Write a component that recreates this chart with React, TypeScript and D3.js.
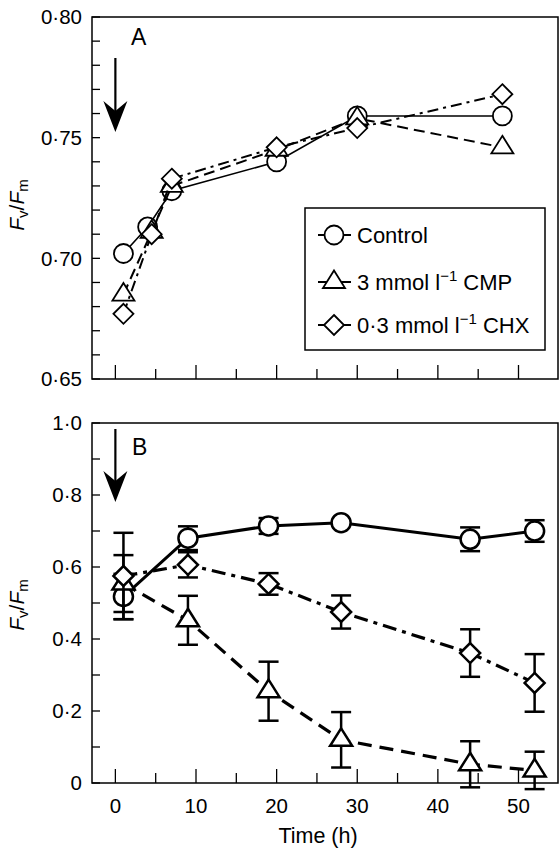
import React from "react";
import * as d3 from "d3";

// ---------- data ----------
const timesAControl = [1, 4, 7, 20, 30, 48];
const timesATreat = [1, 4.5, 7, 20, 30, 48];
const controlA = [0.702, 0.713, 0.728, 0.74, 0.759, 0.759];
const cmpA = [0.685, 0.711, 0.73, 0.745, 0.758, 0.746];
const chxA = [0.677, 0.71, 0.733, 0.746, 0.754, 0.768];

const timesB = [1, 9, 19, 28, 44, 52];
const controlB = [0.518, 0.68, 0.714, 0.723, 0.677, 0.7];
const controlBErr = [0.063, 0.033, 0.022, 0, 0.033, 0.03];
const cmpB = [0.554, 0.452, 0.255, 0.12, 0.052, 0.035];
const cmpBErr = [0.079, 0.068, 0.082, 0.077, 0.064, 0.052];
const chxB = [0.575, 0.606, 0.553, 0.475, 0.361, 0.278];
const chxBErr = [0.12, 0.035, 0.03, 0.046, 0.066, 0.08];

const xTicks = [0, 5, 10, 15, 20, 25, 30, 35, 40, 45, 50];
const xTickLabels = [0, 10, 20, 30, 40, 50];
const yTicksAMinor = d3.range(0, 16).map((i) => 0.65 + i * 0.01);
const yTickValuesA = [0.65, 0.7, 0.75, 0.8];
const yTickLabelsA = ["0·65", "0·70", "0·75", "0·80"];
const yTicksBMinor = d3.range(0, 11).map((i) => i * 0.1);
const yTickValuesB = [0, 0.2, 0.4, 0.6, 0.8, 1.0];
const yTickLabelsB = ["0", "0·2", "0·4", "0·6", "0·8", "1·0"];

const legendLabels = ["Control", "3 mmol l", "0·3 mmol l"];
const legendSuffix = ["", " CMP", " CHX"];

// ---------- layout ----------
const FONT = "'Liberation Sans', Arial, Helvetica, sans-serif";
const left = 92;
const right = 558;
const x = d3.scaleLinear().domain([-2.9, 54.9]).range([left, right]);
const yA = d3.scaleLinear().domain([0.65, 0.8]).range([379, 17]);
const yB = d3.scaleLinear().domain([0, 1]).range([783, 423]);

type Shape = "circle" | "triangle" | "diamond";

function Marker({ cx, cy, shape, sw }: { cx: number; cy: number; shape: Shape; sw: number }) {
  if (shape === "circle")
    return <circle cx={cx} cy={cy} r={9.5} fill="#fff" stroke="#000" strokeWidth={sw} />;
  if (shape === "triangle")
    return (
      <path
        d={`M${cx},${cy - 11.5}L${cx + 11},${cy + 6}L${cx - 11},${cy + 6}Z`}
        fill="#fff"
        stroke="#000"
        strokeWidth={sw}
        strokeLinejoin="miter"
      />
    );
  return (
    <path
      d={`M${cx},${cy - 10}L${cx + 10},${cy}L${cx},${cy + 10}L${cx - 10},${cy}Z`}
      fill="#fff"
      stroke="#000"
      strokeWidth={sw}
    />
  );
}

function Series({
  times,
  vals,
  errs,
  y,
  shape,
  dash,
  lw,
  msw,
}: {
  times: number[];
  vals: number[];
  errs?: number[];
  y: d3.ScaleLinear<number, number>;
  shape: Shape;
  dash?: string;
  lw: number;
  msw: number;
}) {
  const pts: [number, number][] = times.map((t, i) => [t, vals[i]]);
  const line = d3
    .line<[number, number]>()
    .x((d) => x(d[0]))
    .y((d) => y(d[1]));
  return (
    <g>
      <path d={line(pts) || ""} fill="none" stroke="#000" strokeWidth={lw} strokeDasharray={dash} />
      {errs &&
        pts.map((p, i) =>
          errs[i] > 0 ? (
            <g key={"e" + i} stroke="#000" strokeWidth={2.5}>
              <line x1={x(p[0])} x2={x(p[0])} y1={y(p[1] + errs[i])} y2={y(p[1] - errs[i])} />
              <line x1={x(p[0]) - 10} x2={x(p[0]) + 10} y1={y(p[1] + errs[i])} y2={y(p[1] + errs[i])} />
              <line x1={x(p[0]) - 10} x2={x(p[0]) + 10} y1={y(p[1] - errs[i])} y2={y(p[1] - errs[i])} />
            </g>
          ) : null
        )}
      {pts.map((p, i) => (
        <Marker key={"m" + i} cx={x(p[0])} cy={y(p[1])} shape={shape} sw={msw} />
      ))}
    </g>
  );
}

function Frame({ y }: { y: d3.ScaleLinear<number, number> }) {
  const [bottom, top] = y.range();
  return (
    <rect x={left} y={top} width={right - left} height={bottom - top} fill="none" stroke="#000" strokeWidth={1.5} />
  );
}

function XTicks({ y }: { y: d3.ScaleLinear<number, number> }) {
  const bottom = y.range()[0];
  return (
    <g stroke="#000" strokeWidth={1.3}>
      {xTicks.map((t) => (
        <line key={t} x1={x(t)} x2={x(t)} y1={bottom} y2={bottom - (t % 10 === 0 ? 14 : 10)} />
      ))}
    </g>
  );
}

function YAxis({
  y,
  minor,
  values,
  labels,
}: {
  y: d3.ScaleLinear<number, number>;
  minor: number[];
  values: number[];
  labels: string[];
}) {
  return (
    <g>
      <g stroke="#000" strokeWidth={1.3}>
        {minor.map((v, i) => (
          <line key={i} x1={left} x2={left + 8} y1={y(v)} y2={y(v)} />
        ))}
      </g>
      {values.map((v, i) => (
        <text key={i} x={82} y={y(v)} dy="0.36em" textAnchor="end" fontSize={20.5} fontFamily={FONT}>
          {labels[i]}
        </text>
      ))}
    </g>
  );
}

function YTitle({ cy }: { cy: number }) {
  return (
    <text transform={`translate(24,${cy}) rotate(-90)`} textAnchor="middle" fontSize={21} fontFamily={FONT}>
      <tspan fontStyle="italic">F</tspan>
      <tspan fontSize={15} dy={4}>v</tspan>
      <tspan dy={-4}>/</tspan>
      <tspan fontStyle="italic">F</tspan>
      <tspan fontSize={15} dy={4}>m</tspan>
    </text>
  );
}

function Arrow({ top, tip }: { top: number; tip: number }) {
  const cx = x(0);
  return (
    <g>
      <line x1={cx} x2={cx} y1={top} y2={tip - 20} stroke="#000" strokeWidth={2.2} />
      <path d={`M${cx - 12},${tip - 31}L${cx},${tip}L${cx + 12},${tip - 31}L${cx},${tip - 21}Z`} fill="#000" />
    </g>
  );
}

export default function App() {
  const shapes: Shape[] = ["circle", "triangle", "diamond"];
  const legendY = [235, 282, 325];
  return (
    <svg
      width={560}
      height={853}
      style={{ position: "absolute", left: 0, top: 0, background: "#fff" }}
      fontFamily={FONT}
    >
      <rect width={560} height={853} fill="#fff" />
      {/* Panel A */}
      <Frame y={yA} />
      <XTicks y={yA} />
      <YAxis y={yA} minor={yTicksAMinor} values={yTickValuesA} labels={yTickLabelsA} />
      <YTitle cy={205} />
      <text x={131} y={45} fontSize={23}>A</text>
      <Arrow top={58} tip={132} />
      <Series times={timesAControl} vals={controlA} y={yA} shape="circle" lw={1.6} msw={1.8} />
      <Series times={timesATreat} vals={cmpA} y={yA} shape="triangle" dash="11,6" lw={2} msw={1.8} />
      <Series times={timesATreat} vals={chxA} y={yA} shape="diamond" dash="11,5,3,5" lw={2} msw={1.8} />
      {/* Legend */}
      <rect x={305} y={208} width={240} height={142} fill="#fff" stroke="#000" strokeWidth={1.5} />
      {shapes.map((s, i) => (
        <g key={s}>
          <line x1={318} x2={351} y1={legendY[i]} y2={legendY[i]} stroke="#000" strokeWidth={2} />
          <Marker cx={334} cy={legendY[i]} shape={s} sw={1.8} />
          <text x={357} y={legendY[i] + 8} fontSize={22}>
            {legendLabels[i]}
            {i > 0 && (
              <tspan fontSize={15} dy={-9}>
                −1
              </tspan>
            )}
            {i > 0 && <tspan dy={9}>{legendSuffix[i]}</tspan>}
          </text>
        </g>
      ))}

      {/* Panel B */}
      <Frame y={yB} />
      <XTicks y={yB} />
      <YAxis y={yB} minor={yTicksBMinor} values={yTickValuesB} labels={yTickLabelsB} />
      <YTitle cy={605} />
      <text x={132} y={455} fontSize={23}>B</text>
      <Arrow top={429} tip={502} />
      <Series times={timesB} vals={controlB} errs={controlBErr} y={yB} shape="circle" lw={3} msw={2.5} />
      <Series times={timesB} vals={cmpB} errs={cmpBErr} y={yB} shape="triangle" dash="14,8" lw={3.2} msw={2.5} />
      <Series times={timesB} vals={chxB} errs={chxBErr} y={yB} shape="diamond" dash="14,6,4,6" lw={3.2} msw={2.5} />
      {xTickLabels.map((t) => (
        <text key={t} x={x(t)} y={813} textAnchor="middle" fontSize={20.5}>
          {t}
        </text>
      ))}
      <text x={318} y={843} textAnchor="middle" fontSize={21.5}>
        Time (h)
      </text>
    </svg>
  );
}
